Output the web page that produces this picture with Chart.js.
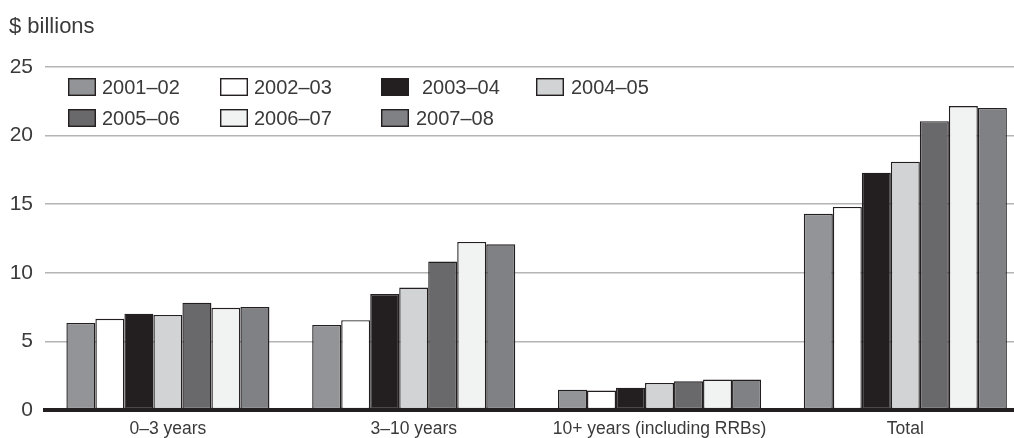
<!DOCTYPE html>
<html>
<head>
<meta charset="utf-8">
<script src="https://cdn.jsdelivr.net/npm/chart.js@4.4.1/dist/chart.umd.min.js"></script>
<style>
  html, body { margin: 0; padding: 0; background: #ffffff; }
  #wrap { width: 1014px; height: 438px; position: relative; }
</style>
</head>
<body>
<div id="wrap"><canvas id="c"></canvas></div>
<script>
// ---- data ----
const categories = ["0–3 years", "3–10 years", "10+ years (including RRBs)", "Total"];
const seriesLabels = ["2001–02", "2002–03", "2003–04", "2004–05", "2005–06", "2006–07", "2007–08"];
const v2001_02 = [6.35, 6.2, 1.48, 14.3];
const v2002_03 = [6.65, 6.55, 1.42, 14.8];
const v2003_04 = [7.02, 8.45, 1.63, 17.3];
const v2004_05 = [6.93, 8.92, 1.97, 18.1];
const v2005_06 = [7.82, 10.82, 2.09, 21.05];
const v2006_07 = [7.45, 12.25, 2.22, 22.15];
const v2007_08 = [7.5, 12.08, 2.22, 22.02];
const yTicks = [0, 5, 10, 15, 20, 25];
const unitLabel = "$ billions";

const seriesValues = [v2001_02, v2002_03, v2003_04, v2004_05, v2005_06, v2006_07, v2007_08];
const seriesColors = ["#939497", "#ffffff", "#231f20", "#d1d3d4", "#69696b", "#f1f2f2", "#808184"];
const ink = "#231f20";
const textColor = "#3a3a3a";
const fontFamily = "'Liberation Sans', Arial, Helvetica, sans-serif";

const datasets = seriesLabels.map((lab, s) => ({
  label: lab,
  data: categories.map((c, i) => ({ x: i, y: seriesValues[s][i] })),
  backgroundColor: seriesColors[s],
  borderColor: ink,
  borderWidth: 1.4,
  borderSkipped: false,
  barPercentage: 1,
  categoryPercentage: 0.826
}));

// custom legend & unit label
const legendPos = [
  { x: 68, y: 87, tx: 34 }, { x: 220, y: 87, tx: 34 }, { x: 381, y: 87, tx: 41 }, { x: 536, y: 87, tx: 35 },
  { x: 68, y: 118, tx: 34 }, { x: 220, y: 118, tx: 34 }, { x: 381, y: 118, tx: 35 }
];
const decorPlugin = {
  id: 'decor',
  afterDraw(chart) {
    const ctx = chart.ctx;
    ctx.save();
    ctx.fillStyle = textColor;
    ctx.font = "22px " + fontFamily;
    ctx.textAlign = 'left';
    ctx.textBaseline = 'alphabetic';
    ctx.fillText(unitLabel, 9, 33);
    ctx.font = "20px " + fontFamily;
    ctx.textBaseline = 'middle';
    chart.data.datasets.forEach((ds, i) => {
      const p = legendPos[i];
      ctx.fillStyle = ds.backgroundColor;
      ctx.fillRect(p.x, p.y - 9, 28, 18);
      ctx.strokeStyle = ink;
      ctx.lineWidth = 1.4;
      ctx.strokeRect(p.x + 0.7, p.y - 9 + 0.7, 26.6, 16.6);
      ctx.fillStyle = textColor;
      ctx.fillText(ds.label, p.x + p.tx, p.y + 1);
    });
    ctx.restore();
  }
};

new Chart(document.getElementById('c'), {
  type: 'bar',
  data: { datasets },
  plugins: [decorPlugin],
  options: {
    responsive: true,
    maintainAspectRatio: false,
    animation: false,
    layout: { padding: { top: 67, left: 0, right: 0, bottom: 0 } },
    plugins: { legend: { display: false }, tooltip: { enabled: false }, title: { display: false } },
    scales: {
      x: {
        type: 'linear',
        min: -0.5,
        max: 3.442,
        offset: false,
        grid: { display: false, drawTicks: false },
        border: { display: true, color: ink, width: 4 },
        ticks: {
          stepSize: 1,
          includeBounds: false,
          autoSkip: false,
          maxRotation: 0,
          padding: 9,
          color: textColor,
          font: { size: 17.5, family: fontFamily },
          callback: (v) => (Number.isInteger(v) && categories[v] !== undefined) ? categories[v] : ''
        },
        afterFit: (s) => { s.height = 28; }
      },
      y: {
        min: 0,
        max: 25,
        afterBuildTicks: (s) => { s.ticks = yTicks.map(v => ({ value: v })); },
        grid: {
          drawTicks: false,
          color: (c) => c.tick && c.tick.value === 0 ? 'rgba(0,0,0,0)' : '#b4b4b4',
          lineWidth: 1.5
        },
        border: { display: false },
        ticks: {
          padding: 12,
          color: textColor,
          font: { size: 21, family: fontFamily }
        },
        afterFit: (s) => { s.width = 45; }
      }
    }
  }
});
</script>
</body>
</html>
